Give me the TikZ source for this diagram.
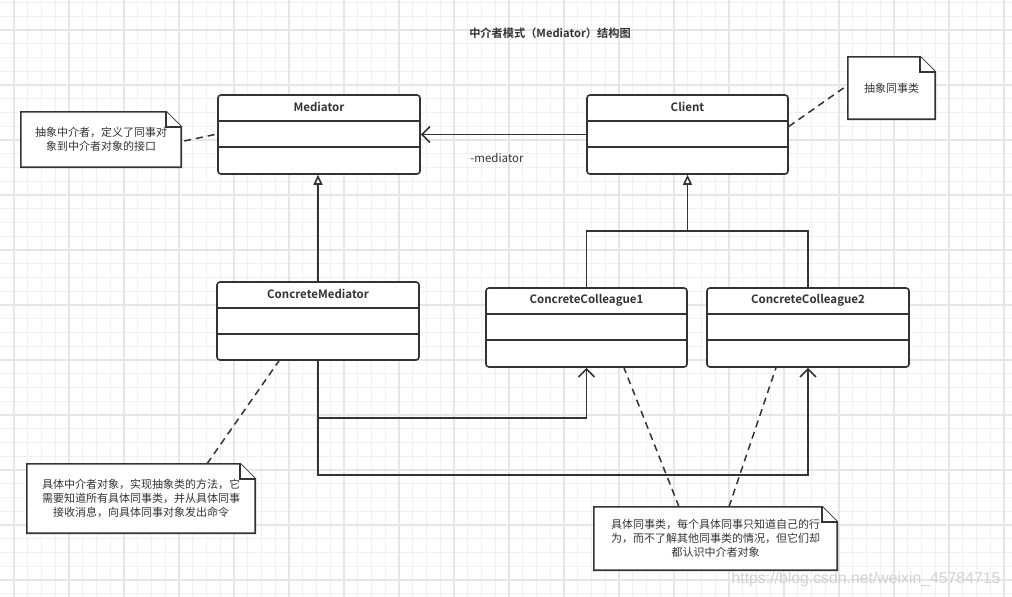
\documentclass[tikz,border=0pt]{standalone}
\usepackage{fontspec}
\setmainfont{Noto Sans CJK SC}[BoldFont={Noto Sans CJK SC Bold}]
\newfontfamily\wmfont{Liberation Sans}
\usetikzlibrary{arrows.meta,calc}
\pgfdeclarelayer{bg}
\pgfdeclarelayer{mid}
\pgfsetlayers{bg,mid,main}
\definecolor{ink}{HTML}{333333}
\definecolor{gridminor}{HTML}{F0F0F0}
\definecolor{gridmajor}{HTML}{E6E6E6}
\newcommand\drawnote[1]{%
  \begin{pgfonlayer}{mid}
  \draw[notebd] (#1.north west) -- ($(#1.north east)+(-15,0)$) -- ($(#1.north east)+(0,15)$) -- (#1.south east) -- (#1.south west) -- cycle;
  \draw[notebd] ($(#1.north east)+(-15,0)$) -- ($(#1.north east)+(-15,15)$) -- ($(#1.north east)+(0,15)$);
  \end{pgfonlayer}}
\newcommand\classbox[5]{% name, center, width, height, title
  \node[cls, minimum width=#3, minimum height=#4] (#1) at (#2) {};
  \node[clstitle] (#1-t) at ($(#1.north)+(0,13)$) {#5};
  \draw[ln] ($(#1.north west)+(0,26.5)$) -- ($(#1.north east)+(0,26.5)$);
  \draw[ln] ($(#1.north west)+(0,52.5)$) -- ($(#1.north east)+(0,52.5)$);}
\begin{document}
\begin{tikzpicture}[x=1pt,y=-1pt,
  ln/.style={draw=ink, line width=1.6pt},
  cls/.style={draw=ink, line width=1.6pt, fill=white, rounded corners=3pt, inner sep=0pt},
  clstitle/.style={text=ink, font=\fontsize{11.5}{13}\selectfont\bfseries, inner sep=0pt},
  notetext/.style={text=ink, font=\fontsize{11}{14}\selectfont, align=center, inner sep=0pt},
  notebd/.style={draw=ink, line width=1.6pt, fill=white, line join=miter},
  dsh/.style={draw=ink, line width=1.5pt, dash pattern=on 7pt off 5pt},
  gen/.style={draw=ink, line width=1.6pt, -{Triangle[open, length=10pt, width=9pt, fill=white]}},
  assoc/.style={draw=ink, line width=1.6pt, -{Straight Barb[length=8pt, width=16pt]}},
]
\useasboundingbox (0,0) rectangle (1012,597);
\begin{pgfonlayer}{bg}
\fill[white] (0,0) rectangle (1012,597);
\foreach \k in {1,...,73} {\draw[gridminor, line width=1pt] (13.75*\k,0) -- (13.75*\k,597);}
\foreach \k in {0,...,43} {\draw[gridminor, line width=1pt] (0,2.5+13.75*\k) -- (1012,2.5+13.75*\k);}
\foreach \k in {0,...,18} {\draw[gridmajor, line width=1.6pt] (13.75+55*\k,0) -- (13.75+55*\k,597);}
\foreach \k in {0,...,10} {\draw[gridmajor, line width=1.6pt] (0,30+55*\k) -- (1012,30+55*\k);}
\end{pgfonlayer}

% title
\node[text=ink, font=\fontsize{11.2}{13}\selectfont\bfseries] (title) at (550,33) {中介者模式（Mediator）结构图};

% classes
\classbox{med}{319,134.5}{202pt}{79pt}{Mediator}
\classbox{cl}{687.5,134.5}{201pt}{79pt}{Client}
\classbox{cm}{318,321}{202pt}{78pt}{ConcreteMediator}
\classbox{cc1}{586.5,327.5}{201pt}{79pt}{ConcreteColleague1}
\classbox{cc2}{808,327.5}{202pt}{79pt}{ConcreteColleague2}

% association Client -> Mediator
\draw[assoc] (cl.west) -- (med.east);
\node[text=ink, font=\fontsize{11.5}{13}\selectfont, inner sep=0pt] (lbl) at (497,158) {-mediator};

% generalizations
\draw[gen] (cm.north) -- (cm.north |- med.south);
\coordinate (jn) at (687.5,231);
\draw[gen] (jn) -- (cl.south);
\draw[ln] (cc1.north) |- (jn) -| (cc2.north);

% associations ConcreteMediator -> colleagues
\draw[assoc] (cm.south) -- ++(0,57) -| (cc1.south);
\draw[assoc] (cm.south) -- ++(0,114) -| (cc2.south);

% notes
\node[notetext, minimum width=160pt, minimum height=55pt] (n1) at (101,139.5) {抽象中介者，定义了同事对\\象到中介者对象的接口};
\node[notetext, minimum width=87pt, minimum height=62pt] (n2) at (891.5,88) {抽象同事类};
\node[notetext, minimum width=228pt, minimum height=69pt] (n3) at (141,498.5) {具体中介者对象，实现抽象类的方法，它\\需要知道所有具体同事类，并从具体同事\\接收消息，向具体同事对象发出命令};
\node[notetext, minimum width=243pt, minimum height=63pt] (n4) at (715.5,538.5) {具体同事类，每个具体同事只知道自己的行\\为，而不了解其他同事类的情况，但它们却\\都认识中介者对象};
\drawnote{n1}
\drawnote{n2}
\drawnote{n3}
\drawnote{n4}

% note connectors
\draw[dsh] ($(n1.east)+(3,1.5)$) -- ($(med.west)+(0,-0.5)$);
\draw[dsh] ($(cl.east)+(0,-8)$) -- ($(n2.west)+(0,-3)$);
\draw[dsh] ($(n3.north)+(66,0)$) -- ($(cm.south)+(-39,0)$);
\draw[dsh] ($(n4.north)+(-36.5,0)$) -- ($(cc1.south)+(37.5,0)$);
\draw[dsh] ($(n4.north)+(13.5,0)$) -- ($(cc2.south)+(-32,0)$);

% watermark
\node[text=black!18, font=\wmfont\fontsize{15.8}{18}\selectfont, inner sep=0pt] (wm) at (866,579) {https://blog.csdn.net/weixin\_45784715};
\end{tikzpicture}
\end{document}
